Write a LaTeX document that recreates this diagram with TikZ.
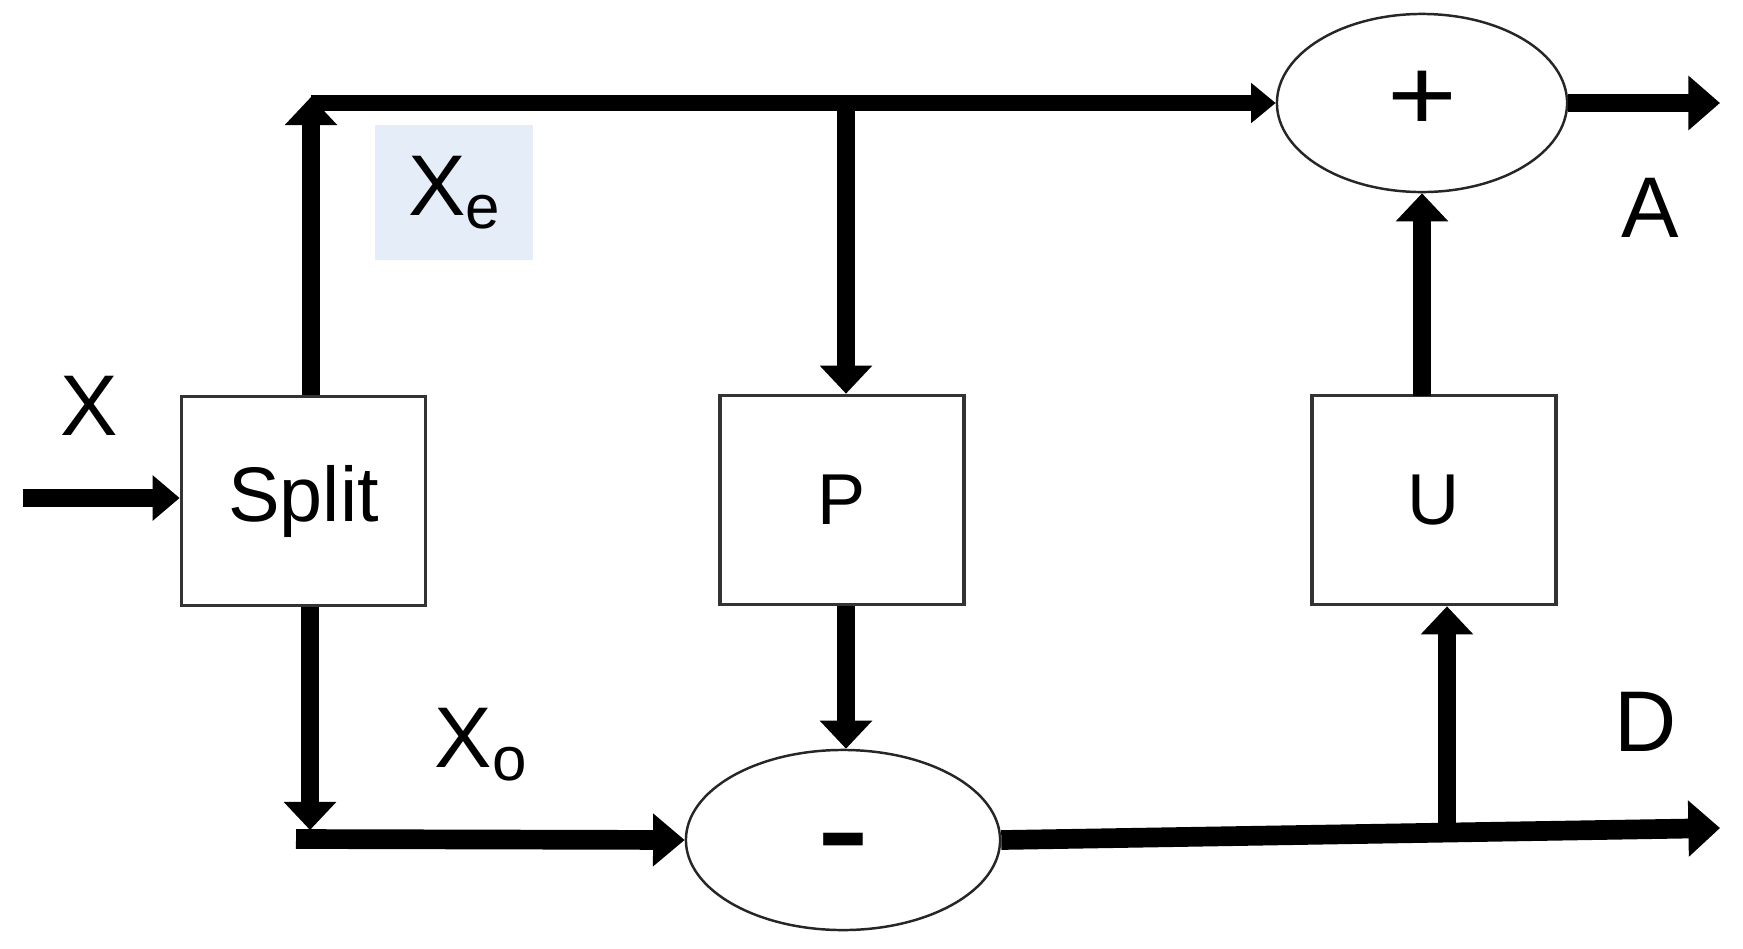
\documentclass[tikz,border=0pt]{standalone}
\usepackage{fontspec}
\setmainfont{Liberation Sans}
\usetikzlibrary{arrows.meta,shapes.geometric}
\definecolor{labelbg}{HTML}{E4EDF8}
\definecolor{boxline}{HTML}{333333}
\newcommand{\lsub}[1]{\raisebox{-3.8pt}{\fontsize{17.6}{20}\selectfont #1}}
\begin{document}
\begin{tikzpicture}[x=0.01cm,y=-0.01cm,
  blk/.style={draw=boxline, line width=1pt, fill=white, minimum width=2.44cm, minimum height=2.09cm, inner sep=0pt, font=\fontsize{20.5}{24}\selectfont},
  sumnode/.style={ellipse, draw=black!85, line width=0.7pt, fill=white, inner sep=0pt},
  flow/.style={line width=5pt, -{Triangle[length=8pt,width=14.5pt]}},
  flowthin/.style={line width=4.6pt, -{Triangle[length=7pt,width=11pt]}},
  lbl/.style={font=\fontsize{24.5}{28}\selectfont, inner sep=0pt}
]
\useasboundingbox (0,0) rectangle (1743,948);

% blocks
\node[blk, font=\fontsize{22}{26}\selectfont] (split) at (303.5,501) {Split};
\node[blk] (p) at (842,500) {P};
\node[blk] (u) at (1434,500) {U};

% summing junctions
\node[sumnode, minimum width=2.9cm, minimum height=1.78cm] (plus) at (1422,103)
  {\raisebox{1.5pt}{\fontsize{34}{36}\selectfont\scalebox{1}[0.86]{+}}};
\node[sumnode, minimum width=3.14cm, minimum height=1.8cm] (minus) at (843,840)
  {\raisebox{-12.2pt}[0pt][0pt]{\fontsize{46}{48}\selectfont -}};

% labels
\node[lbl] (xin) at (89,406) {X};
\node[lbl, fill=labelbg, minimum width=1.58cm, minimum height=1.35cm] (xe) at (454,192.5) {X\lsub{e}};
\node[lbl, anchor=base west] (xo) at (434,767) {X\lsub{o}};
\node[lbl] (alab) at (1650,208) {A};
\node[lbl] (dlab) at (1646,722) {D};

% coordinates
\coordinate (in) at (23,498);
\coordinate (tltip) at (311,97);
\coordinate (tl) at (311,103);
\coordinate (pb) at (846,103);
\coordinate (bltip) at (310,830);
\coordinate (bl) at (296,839);
\coordinate (j) at (1447,832);
\coordinate (dout) at (1720,828);
\coordinate (aout) at (1720,103);
\coordinate (ut) at (1422,396);

% connectors
\draw[flow, -{Triangle[length=7.7pt,width=12.5pt]}] (in) -- (in -| split.west);
\draw[flow] (tltip |- split.north) -- (tltip);
\draw[flowthin] (tl) -- (plus.west);
\draw[flow] (pb) -- (pb |- p.north);
\draw[flow] (pb |- p.south) -- (pb |- minus.north);
\draw[flow] (bltip |- split.south) -- (bltip);
\draw[line width=5.6pt, -{Triangle[length=9pt,width=14.5pt]}] (bl) -- (minus.west);
\draw[line width=5.6pt, -{Triangle[length=9pt,width=15.5pt]}] (minus.east) -- (dout);
\draw[flow] (j) -- (j |- u.south);
\draw[flow] (ut) -- (ut |- plus.south);
\draw[line width=5.2pt, -{Triangle[length=9pt,width=15pt]}] (plus.east) -- (aout);
\end{tikzpicture}
\end{document}
